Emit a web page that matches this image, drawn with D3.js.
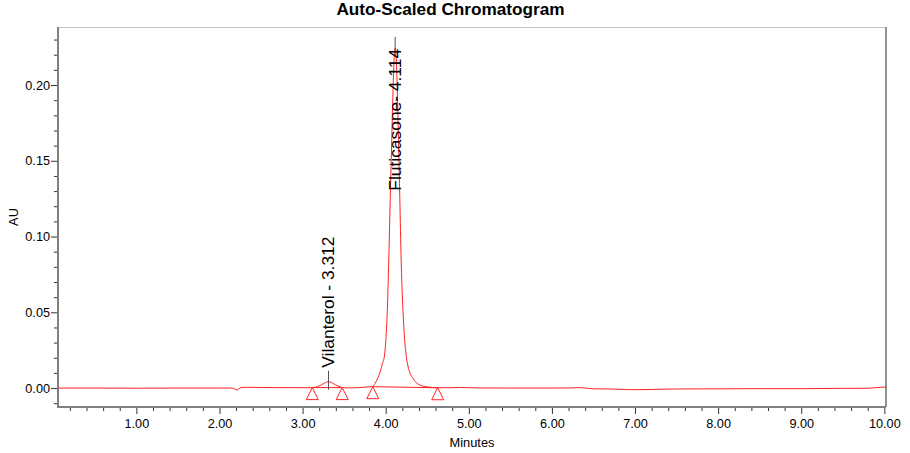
<!DOCTYPE html>
<html>
<head>
<meta charset="utf-8">
<script src="https://cdn.jsdelivr.net/npm/d3@7"></script>
<style>
  body { margin: 0; background: #fff; }
  svg { font-family: "Liberation Sans", Arial, sans-serif; display: block; }
</style>
</head>
<body>
<div class="container"></div>
<script>
// detector trace (minutes, AU)
var times = [
  0.06, 0.5, 1.0, 1.5, 2.0, 2.15, 2.19, 2.21, 2.23, 2.26, 2.32, 2.5, 2.7, 2.9, 3.05,
  3.12, 3.18, 3.24, 3.28, 3.312, 3.35, 3.40, 3.45, 3.48, 3.55, 3.65, 3.75, 3.80,
  3.84, 3.87, 3.905, 3.93, 3.96, 3.986, 4.00, 4.02, 4.037, 4.055, 4.073, 4.09, 4.104, 4.114,
  4.124, 4.138, 4.154, 4.170, 4.186, 4.205, 4.225, 4.246, 4.28, 4.326, 4.37, 4.42, 4.50, 4.62,
  4.75, 4.9, 5.1, 5.5, 6.0, 6.25, 6.32, 6.4, 6.5, 6.7, 6.9, 7.0, 7.2, 7.5, 8.0, 8.5,
  9.0, 9.5, 9.8, 9.95, 10.02
];
var absorbance = [
  0.0000, 0.0000, -0.0001, 0.0000, 0.0000, 0.0000, -0.0008, -0.0013, -0.0006, 0.0003, 0.0005, 0.0004, 0.0003, 0.0003, 0.0002,
  0.0003, 0.0010, 0.0025, 0.0037, 0.0042, 0.0036, 0.0020, 0.0008, 0.0003, 0.0001, 0.0002, 0.0006, 0.0008,
  0.0010, 0.0030, 0.0066, 0.0100, 0.0160, 0.0218, 0.0300, 0.0520, 0.0845, 0.1250, 0.1640, 0.2000, 0.2200, 0.2245,
  0.2210, 0.2000, 0.1640, 0.1250, 0.0845, 0.0550, 0.0340, 0.0218, 0.0120, 0.0066, 0.0035, 0.0018, 0.0008, 0.0002,
  0.0002, 0.0004, 0.0001, 0.0000, 0.0000, 0.0001, 0.0003, 0.0000, -0.0005, -0.0006, -0.0010, -0.0011, -0.0009, -0.0006, -0.0005, -0.0004,
  -0.0004, -0.0002, -0.0001, 0.0005, 0.0007
];

// integrated peaks
var peakNames = ['Vilanterol', 'Fluticasone'];
var peakLabels = ['Vilanterol - 3.312', 'Fluticasone- 4.114'];
var peakRT = [3.312, 4.114];
var peakHeight = [0.0042, 0.2245];
var peakStart = [3.117, 3.845];
var peakEnd = [3.477, 4.626];
var peakStartAU = [0.0003, 0.0009];
var peakEndAU = [0.0003, 0.0002];

var xTicksMajor = [1, 2, 3, 4, 5, 6, 7, 8, 9, 10];
var yTicksMajor = [0, 0.05, 0.10, 0.15, 0.20];

var width = 910, height = 453;
var margin = { top: 27, right: 24, bottom: 46, left: 58 };
var innerW = width - margin.left - margin.right;
var innerH = height - margin.top - margin.bottom;

var x = d3.scaleLinear().domain([0.057, 10.02]).range([0, innerW]);
var y = d3.scaleLinear().domain([-0.0125, 0.2383]).range([innerH, 0]);

var svg = d3.select('.container').append('svg')
    .attr('width', width)
    .attr('height', height);

svg.append('text')
    .attr('x', 450.5)
    .attr('y', 15)
    .attr('text-anchor', 'middle')
    .attr('font-weight', 'bold')
    .attr('font-size', '17.2px')
    .text('Auto-Scaled Chromatogram');

var g = svg.append('g')
    .attr('transform', 'translate(' + margin.left + ',' + margin.top + ')');

// frame: top and right
g.append('line').attr('x1', 0).attr('x2', innerW).attr('y1', 0.5).attr('y2', 0.5)
    .attr('stroke', '#c4c4c4');
g.append('line').attr('x1', innerW).attr('x2', innerW).attr('y1', 0).attr('y2', innerH)
    .attr('stroke', '#6e6e6e').attr('stroke-width', 1.5);

// ----------
// axes
var xMinor = d3.range(2, 101, 2).map(function(d) { return d / 10; })
    .filter(function(d) { return d % 1 !== 0 && d >= x.domain()[0]; });
var yMinor = d3.range(-1, 24).map(function(d) { return d / 100; })
    .filter(function(d) { return Math.round(d * 100) % 5 !== 0; });

var xAxisMinor = g.append('g')
    .attr('transform', 'translate(0,' + innerH + ')')
    .call(d3.axisBottom(x).tickValues(xMinor).tickSize(4).tickFormat(''));
var xAxis = g.append('g')
    .attr('transform', 'translate(0,' + innerH + ')')
    .call(d3.axisBottom(x).tickValues(xTicksMajor).tickSize(7).tickPadding(5.4)
      .tickFormat(d3.format('.2f')));

var yAxisMinor = g.append('g')
    .call(d3.axisLeft(y).tickValues(yMinor).tickSize(4).tickFormat(''));
var yAxis = g.append('g')
    .call(d3.axisLeft(y).tickValues(yTicksMajor).tickSize(7).tickPadding(1)
      .tickFormat(d3.format('.2f')));

[xAxisMinor, xAxis, yAxisMinor, yAxis].forEach(function(a) {
  a.select('.domain').remove();
  a.selectAll('.tick line').attr('stroke', '#333');
  a.selectAll('.tick text')
      .attr('fill', '#000')
      .attr('font-size', '12.7px')
      .attr('font-family', '"Liberation Sans", Arial, sans-serif');
});

g.append('line').attr('x1', 0).attr('x2', innerW).attr('y1', innerH).attr('y2', innerH)
    .attr('stroke', '#808080').attr('stroke-width', 2);
g.append('line').attr('x1', 0).attr('x2', 0).attr('y1', 0).attr('y2', innerH + 1)
    .attr('stroke', '#808080').attr('stroke-width', 2);

svg.append('text')
    .attr('x', margin.left + innerW / 2)
    .attr('y', 447)
    .attr('text-anchor', 'middle')
    .attr('font-size', '12.8px')
    .text('Minutes');

svg.append('text')
    .attr('transform', 'translate(18,' + (margin.top + innerH / 2) + ') rotate(-90)')
    .attr('text-anchor', 'middle')
    .attr('font-size', '12.8px')
    .text('AU');

// ----------
// trace
var trace = times.map(function(t, i) { return [t, absorbance[i]]; });
var plot = g.append('g');

plot.append('path')
    .datum(trace)
    .attr('fill', 'none')
    .attr('stroke', '#ff2020')
    .attr('stroke-width', 1)
    .attr('d', d3.line()
      .x(function(d) { return x(d[0]); })
      .y(function(d) { return y(d[1]); })
      .curve(d3.curveMonotoneX));

// integration baselines and start/end triangles
peakNames.forEach(function(name, i) {
  plot.append('line')
      .attr('x1', x(peakStart[i])).attr('y1', y(peakStartAU[i]))
      .attr('x2', x(peakEnd[i])).attr('y2', y(peakEndAU[i]))
      .attr('stroke', '#ff2020');

  [[peakStart[i], peakStartAU[i]], [peakEnd[i], peakEndAU[i]]].forEach(function(p) {
    var px = x(p[0]), py = y(p[1]);
    plot.append('path')
        .attr('d', 'M' + px + ',' + py + 'L' + (px + 6) + ',' + (py + 12)
          + 'L' + (px - 6) + ',' + (py + 12) + 'Z')
        .attr('fill', 'none')
        .attr('stroke', '#ff2020');
  });
});

// retention time markers and labels
peakNames.forEach(function(name, i) {
  var px = x(peakRT[i]), apex = y(peakHeight[i]);
  plot.append('line')
      .attr('x1', px).attr('x2', px)
      .attr('y1', apex - 11).attr('y2', apex + 8)
      .attr('stroke', '#555');

  var label = plot.append('text')
      .attr('font-size', '17.4px')
      .attr('fill', '#000')
      .text(peakLabels[i]);
  var len = label.node().getComputedTextLength();
  // labels sit above the apex unless that runs out of the frame
  if (apex - 14 - len > 0) {
    label.attr('text-anchor', 'start')
        .attr('transform', 'translate(' + (px + 5.5) + ',' + (apex - 14) + ') rotate(-90)');
  } else {
    label.attr('text-anchor', 'end')
        .attr('transform', 'translate(' + (px + 5.5) + ',' + (apex + 1) + ') rotate(-90)');
  }
});
</script>
</body>
</html>
